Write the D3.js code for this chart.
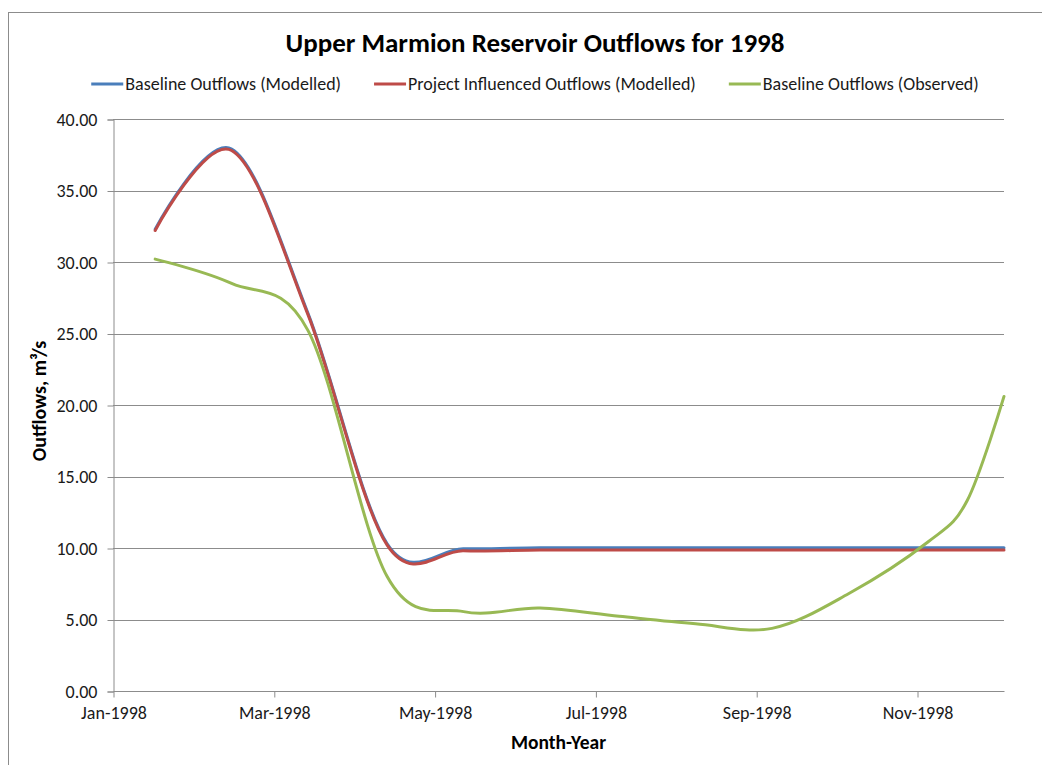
<!DOCTYPE html>
<html><head><meta charset="utf-8">
<script src="https://cdn.jsdelivr.net/npm/d3@7/dist/d3.min.js"></script>
<style>body{margin:0;background:#fff}text{font-family:Calibri,Carlito,Lato,sans-serif}</style>
</head><body><svg id="chart" width="1042" height="765"></svg>
<script>
// ---- data ----
const dates = ["1998-01-17","1998-02-15","1998-03-16","1998-04-15","1998-05-14","1998-06-12",
               "1998-07-12","1998-08-10","1998-09-08","1998-10-07","1998-11-06","1998-11-21","1998-12-05"];
const baselineModelled = [32.3, 37.9, 26.4, 10.3, 9.95, 10.02, 10.02, 10.02, 10.02, 10.02, 10.02, 10.02, 10.02];
const projectModelled  = [32.2, 37.8, 26.3, 10.2, 9.8, 9.86, 9.86, 9.86, 9.86, 9.86, 9.86, 9.86, 9.86];
const baselineObserved = [30.2, 28.5, 25.2, 8.0, 5.55, 5.8, 5.22, 4.7, 4.38, 6.8, 10.4, 13.3, 20.6];
const seriesNames = ["Baseline Outflows (Modelled)", "Project Influenced Outflows (Modelled)", "Baseline Outflows (Observed)"];
const seriesColors = ["#4A7EBB", "#BE4B48", "#98B954"];
const xTickDates = ["1998-01-01","1998-03-03","1998-05-03","1998-07-03","1998-09-02","1998-11-02"];
const xDomain = ["1998-01-01","1998-12-05"];
const yTicks = [0, 5, 10, 15, 20, 25, 30, 35, 40];
const titleText = "Upper Marmion Reservoir Outflows for 1998";
const xTitle = "Month-Year";
const yTitle = "Outflows, m³/s";

// ---- layout ----
const parse = d3.utcParse("%Y-%m-%d");
const L = 113, R = 1004, T = 119, B = 691;
const svg = d3.select("#chart");
const gridColor = "#8c8c8c";
const CX = 535;

// outer chart border (extends past the picture on right/bottom)
svg.append("rect").attr("x", 8.5).attr("y", 12.5).attr("width", 1100).attr("height", 800)
  .attr("fill", "#fff").attr("stroke", "#8c8c8c").attr("stroke-width", 1);

const x = d3.scaleUtc().domain(xDomain.map(parse)).range([L, R]);
const y = d3.scaleLinear().domain([0, 40]).range([B, T]);

// gridlines
svg.append("g").selectAll("line").data(yTicks.filter(v => v > 0)).join("line")
  .attr("x1", L).attr("x2", R)
  .attr("y1", d => Math.round(y(d)) + 0.5).attr("y2", d => Math.round(y(d)) + 0.5)
  .attr("stroke", gridColor).attr("stroke-width", 1);

// y axis
const yAxis = d3.axisLeft(y).tickValues(yTicks).tickSize(6).tickPadding(10).tickFormat(d3.format(".2f"));
const gy = svg.append("g").attr("transform", `translate(${L + 0.5},0.5)`).call(yAxis);
gy.selectAll("path,line").attr("stroke", gridColor);
gy.selectAll("text").attr("font-size", 18).attr("fill", "#1a1a1a");

// x axis
const xAxis = d3.axisBottom(x).tickValues(xTickDates.map(parse)).tickSize(6).tickPadding(9)
  .tickFormat(d3.utcFormat("%b-%Y"));
const gx = svg.append("g").attr("transform", `translate(0.5,${B + 0.5})`).call(xAxis);
gx.selectAll("path,line").attr("stroke", gridColor);
gx.select("path").attr("d", `M${L},0H${R}`);
gx.selectAll("text").attr("font-size", 18).attr("fill", "#1a1a1a");

// lines
const allSeries = [baselineModelled, projectModelled, baselineObserved];
const line = d3.line().x(d => x(d.date)).y(d => y(d.v)).curve(d3.curveCardinal.tension(0));
allSeries.forEach((vals, i) => {
  const pts = dates.map((s, j) => ({date: parse(s), v: vals[j]}));
  svg.append("path").datum(pts).attr("d", line).attr("fill", "none")
    .attr("stroke", seriesColors[i]).attr("stroke-width", 3)
    .attr("stroke-linejoin", "round").attr("stroke-linecap", "round");
});

// title
svg.append("text").attr("x", CX).attr("y", 52).attr("text-anchor", "middle")
  .attr("font-size", 27).attr("font-weight", "bold").attr("fill", "#000").text(titleText);

// axis titles
svg.append("text").attr("x", (L + R) / 2).attr("y", 749).attr("text-anchor", "middle")
  .attr("font-size", 19.5).attr("font-weight", "bold").attr("fill", "#000").text(xTitle);
svg.append("text").attr("transform", `translate(46,${(T + B) / 2 - 4}) rotate(-90)`)
  .attr("text-anchor", "middle").attr("font-size", 20).attr("font-weight", "bold")
  .attr("fill", "#000").text(yTitle);

// legend
const lg = svg.append("g");
const gap = 33;
let cx = 0;
seriesNames.forEach((name, i) => {
  const g = lg.append("g").attr("transform", `translate(${cx},0)`);
  g.append("line").attr("x1", 0).attr("x2", 32).attr("y1", 0).attr("y2", 0)
    .attr("stroke", seriesColors[i]).attr("stroke-width", 3);
  const t = g.append("text").attr("x", 34).attr("y", 0).attr("dy", "0.35em")
    .attr("font-size", 18).attr("fill", "#1a1a1a").text(name);
  cx += 34 + t.node().getComputedTextLength() + gap;
});
const lw = cx - gap;
lg.attr("transform", `translate(${CX - lw / 2},84)`);
</script></body></html>
